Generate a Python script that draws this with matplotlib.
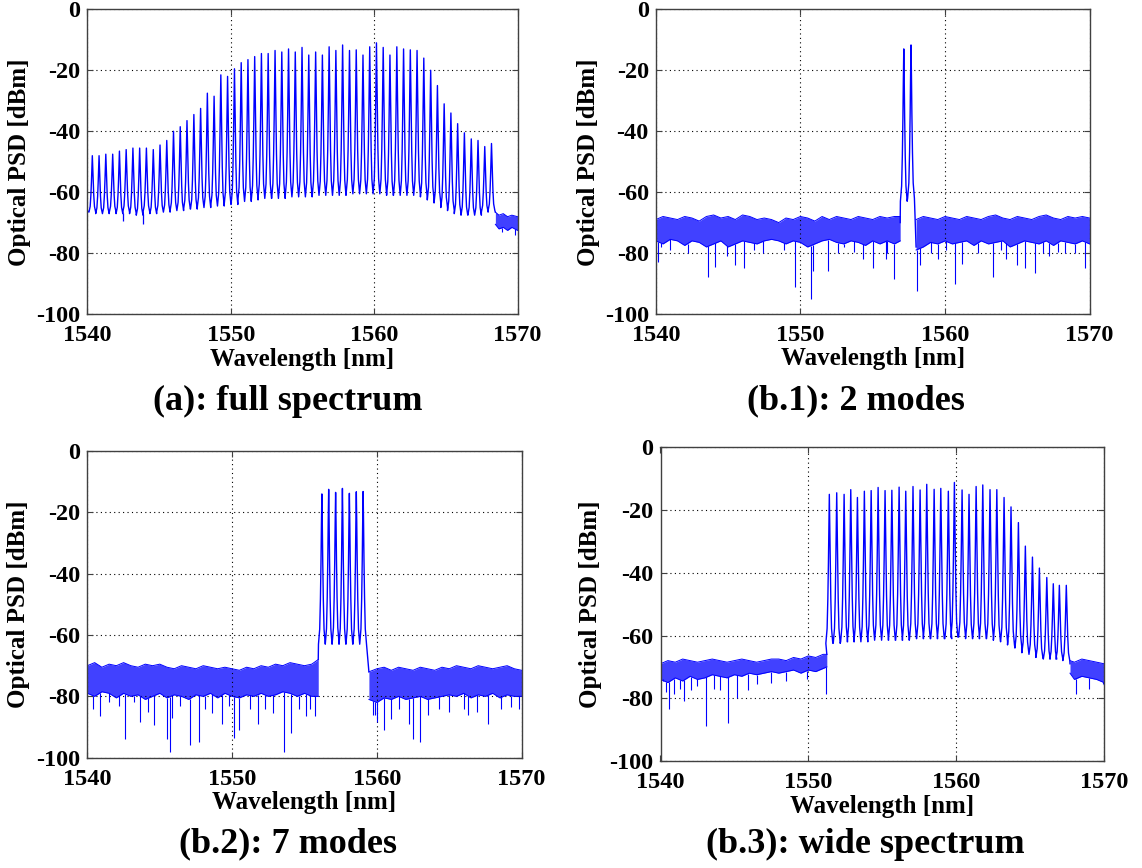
import numpy as np
import matplotlib
matplotlib.use("Agg")
import matplotlib.pyplot as plt

plt.rcParams["font.family"] = ["Liberation Serif", "DejaVu Serif"]
plt.rcParams["font.weight"] = "bold"
plt.rcParams["axes.unicode_minus"] = False

#
# (a) full spectrum: comb peaks, valley level after each peak, noise tail
#
a_peak_nm = [1540.35, 1540.82, 1541.29, 1541.77, 1542.24, 1542.71, 1543.18, 1543.65, 1544.12, 1544.60,
             1545.07, 1545.54, 1546.01, 1546.48, 1546.95, 1547.43, 1547.90, 1548.37, 1548.84, 1549.31,
             1549.78, 1550.26, 1550.73, 1551.20, 1551.67, 1552.14, 1552.61, 1553.09, 1553.56, 1554.03,
             1554.50, 1554.97, 1555.44, 1555.92, 1556.39, 1556.86, 1557.33, 1557.80, 1558.28, 1558.75,
             1559.22, 1559.69, 1560.16, 1560.63, 1561.10, 1561.58, 1562.05, 1562.52, 1562.99, 1563.46,
             1563.94, 1564.41, 1564.88, 1565.35, 1565.82, 1566.29, 1566.77, 1567.24, 1567.71, 1568.18]
a_peak_db = [-48, -48, -47.5, -47.5, -46.5, -46, -45.5, -45.5, -45.5, -46,
             -44.5, -43, -40, -38.5, -36.5, -34.5, -32.5, -27.5, -28.5, -21.5,
             -22, -19.5, -17.5, -16.5, -15.5, -14.5, -14.5, -13.5, -14, -13,
             -14, -12.5, -15, -14, -15, -12.3, -13.5, -11.7, -13.5, -13.3,
             -15, -12.3, -11, -12.5, -15, -12.3, -13, -13.3, -13.5, -16,
             -20, -25, -31, -34, -37.5, -40.5, -42.5, -43, -45, -44]
a_valley_db = [-66.5, -67, -67, -66.5, -67, -66.5, -67, -67.5, -66.5, -67,
               -66.5, -66.5, -66, -66, -65.5, -65.5, -65, -65, -64.5, -64.5,
               -64, -64, -63, -63, -62.5, -62, -62, -62, -62, -61.5,
               -61.5, -61.5, -61.5, -61, -61, -61, -61, -61, -60.5, -60.5,
               -60.5, -60.5, -60.5, -60.5, -61, -61, -61, -61, -61, -61.5,
               -62.5, -63.5, -65, -66, -67, -67.5, -67.5, -67.5, -66.5, -66]
a_notch_nm = [1542.47, 1543.88]
a_notch_db = [-69.5, -70.5]
a_floor_nm = [1568.45, 1568.7, 1569.0, 1569.3, 1569.6, 1570]
a_floor_hi = [-66.5, -67.5, -67, -68, -67.5, -68]
a_floor_lo = [-70.5, -72, -71.5, -72.5, -71.5, -72.5]
a_dip_nm = [1568.9, 1569.85]
a_dip_db = [-73, -74]

#
# (b.1) 2 modes
#
b1_peak_nm = [1557.15, 1557.65]
b1_peak_db = [-13, -11.7]
b1_valley_db = [-63, -62]
b1_comb_span = [1556.9, 1558.0]
b1_floor_nm = [1540, 1540.5, 1541, 1541.5, 1542, 1542.5, 1543, 1543.5, 1544, 1544.5, 1545, 1545.5,
               1546, 1546.5, 1547, 1547.5, 1548, 1548.5, 1549, 1549.5, 1550, 1550.5, 1551, 1551.5,
               1552, 1552.5, 1553, 1553.5, 1554, 1554.5, 1555, 1555.5, 1556, 1556.5, 1556.9,
               1558.0, 1558.5, 1559, 1559.5, 1560, 1560.5, 1561, 1561.5, 1562, 1562.5, 1563, 1563.5,
               1564, 1564.5, 1565, 1565.5, 1566, 1566.5, 1567, 1567.5, 1568, 1568.5, 1569, 1569.5, 1570]
b1_floor_hi = [-69, -68, -68.5, -69, -68, -68.5, -69.5, -68, -67.5, -68.5, -68, -69,
               -67.5, -68, -69, -68.5, -69, -70, -68.5, -69, -68, -68.5, -69.5, -68,
               -69, -68, -68.5, -69, -68, -68.5, -69, -68, -68.5, -68, -68,
               -69, -68, -68.5, -69, -68, -68.5, -69, -68, -68.5, -69, -68, -67.5,
               -68.5, -69, -68, -68.5, -69, -68, -67.5, -68.5, -69, -68, -68.5, -68, -68.5]
b1_floor_lo = [-76, -77, -75.5, -76, -77.5, -76, -76.5, -78, -77, -76, -78, -77,
               -76, -76.5, -77, -76, -75.5, -76, -77, -76, -76.5, -78, -77, -76,
               -75.5, -76.5, -77, -76, -76.5, -77.5, -76, -77, -76, -77, -76,
               -79, -78, -76.5, -77, -76, -77, -76.5, -76, -77.5, -76, -77, -76.5,
               -76, -78, -77, -76, -76.5, -77, -76, -77.5, -76, -76.5, -77, -76, -77]
b1_dip_nm = [1540.15, 1540.35, 1541.0, 1542.2, 1543.6, 1544.1, 1544.9, 1545.5, 1546.1, 1546.8,
             1547.4, 1548.9, 1549.6, 1550.7, 1550.85, 1551.9, 1552.6, 1553.0, 1553.7, 1554.3,
             1555.0, 1555.9, 1556.0, 1556.5, 1558.05, 1558.25, 1559.0, 1559.5, 1560.1, 1560.7,
             1561.2, 1562.3, 1563.3, 1563.9, 1564.2, 1565.0, 1565.5, 1566.2, 1566.8, 1567.2,
             1567.8, 1568.3, 1569.0, 1569.7]
b1_dip_db = [-83, -78, -79, -80, -88, -84.5, -81, -84, -85, -79,
             -80, -79, -91, -95, -86, -86, -80, -78, -79.5, -82,
             -85, -82, -80, -88.5, -92.5, -84, -80, -82, -79, -90,
             -83.5, -80, -88, -79, -82, -84, -85, -86.5, -80, -81,
             -79.5, -80, -80, -85]

#
# (b.2) 7 modes
#
b2_peak_nm = [1556.2, 1556.67, 1557.15, 1557.62, 1558.1, 1558.58, 1559.05]
b2_peak_db = [-14, -12.5, -13.5, -12.2, -13.8, -13.3, -13.2]
b2_valley_db = [-63, -63, -62.5, -63, -63, -63, -63]
b2_comb_span = [1555.95, 1559.45]
b2_floor_nm = [1540, 1540.5, 1541, 1541.5, 1542, 1542.5, 1543, 1543.5, 1544, 1544.5, 1545, 1545.5,
               1546, 1546.5, 1547, 1547.5, 1548, 1548.5, 1549, 1549.5, 1550, 1550.5, 1551, 1551.5,
               1552, 1552.5, 1553, 1553.5, 1554, 1554.5, 1555, 1555.5, 1555.95,
               1559.45, 1560, 1560.5, 1561, 1561.5, 1562, 1562.5, 1563, 1563.5, 1564, 1564.5,
               1565, 1565.5, 1566, 1566.5, 1567, 1567.5, 1568, 1568.5, 1569, 1569.5, 1570]
b2_floor_hi = [-70, -69, -70.5, -69.5, -70, -69, -70, -70.5, -69.5, -70, -69.5, -70.5,
               -71, -70, -70.5, -71, -70, -70.5, -71, -70.5, -71, -71.5, -70.5, -71,
               -70, -70.5, -69.5, -70, -69, -69.5, -70, -69.5, -68,
               -72, -71, -70.5, -71.5, -70.5, -71, -71.5, -70.5, -71, -71.5, -70.5,
               -71, -70, -70.5, -71, -70, -70.5, -71, -70.5, -70, -71, -71.5]
b2_floor_lo = [-79, -80, -78.5, -79, -80.5, -79, -80, -79.5, -81, -80, -79, -80.5,
               -79.5, -80, -81, -79.5, -80, -79, -80.5, -79, -80, -80.5, -79.5, -80,
               -79, -80, -79.5, -78.5, -79, -80, -79, -80, -80,
               -81, -82, -80.5, -81, -80, -81, -80.5, -80, -81, -80.5, -80,
               -79.5, -80, -79, -80.5, -79.5, -80, -79, -80.5, -79.5, -80, -80]
b2_dip_nm = [1540.4, 1540.9, 1541.5, 1542.2, 1542.6, 1543.2, 1543.6, 1544.2, 1544.6, 1545.5,
             1545.7, 1545.85, 1546.4, 1547.1, 1547.7, 1548.1, 1548.6, 1549.3, 1549.8, 1550.1,
             1550.5, 1551.2, 1551.8, 1552.3, 1552.8, 1553.6, 1554.1, 1554.6, 1555.1, 1555.4,
             1555.7, 1559.7, 1559.9, 1560.0, 1560.5, 1561.0, 1561.5, 1562.2, 1562.5, 1563.0,
             1563.5, 1564.3, 1565.0, 1566.0, 1566.3, 1566.9, 1567.7, 1568.6, 1569.3, 1569.8]
b2_dip_db = [-84, -86.5, -82, -83, -94, -82, -88.5, -85, -89.5, -94,
             -98, -87, -83, -96, -95, -84, -85.5, -89, -83, -93.5,
             -91, -84, -89, -84, -85.5, -98, -92, -84, -86.5, -84,
             -86.5, -86, -86, -88.5, -91, -87.5, -84, -89, -94, -95,
             -86, -84, -85, -84, -86, -85, -89, -84, -83.5, -84]

#
# (b.3) wide spectrum
#
b3_peak_nm = [1551.42, 1551.92, 1552.42, 1552.87, 1553.32, 1553.79, 1554.25, 1554.72, 1555.19, 1555.65,
              1556.14, 1556.59, 1557.08, 1557.56, 1558.01, 1558.51, 1558.96, 1559.47, 1559.88, 1560.40,
              1560.87, 1561.35, 1561.80, 1562.29, 1562.75, 1563.24, 1563.71, 1564.21, 1564.68, 1565.16,
              1565.63, 1566.13, 1566.57, 1566.98, 1567.45]
b3_peak_db = [-15, -14.5, -15, -13.5, -16, -14, -13.8, -12.8, -13.8, -13.7,
              -12.7, -14, -12.5, -13.6, -11.8, -13.4, -13.1, -14, -11.2, -13.6,
              -15, -12.5, -12, -13.5, -13.5, -16, -19, -24, -31.5, -35,
              -38.5, -41.5, -43.5, -44, -44]
b3_valley_db = [-62.5, -62.5, -62, -62, -62, -62, -61.5, -61.5, -61.5, -61.5,
                -61.5, -61.5, -61, -61, -61, -61, -61, -61, -60.5, -60.5,
                -61, -61, -61, -61, -61.5, -62, -63, -64, -65.5, -66,
                -67, -67.5, -67.5, -67.5, -68]
b3_comb_span = [1551.25, 1567.7]
b3_floor_nm = [1540, 1540.5, 1541, 1541.5, 1542, 1542.5, 1543, 1543.5, 1544, 1544.5, 1545, 1545.5,
               1546, 1546.5, 1547, 1547.5, 1548, 1548.5, 1549, 1549.5, 1550, 1550.5, 1551, 1551.25,
               1567.7, 1568, 1568.5, 1569, 1569.5, 1570]
b3_floor_hi = [-69, -68, -68.5, -67.5, -68, -68.5, -68, -67.5, -68, -68.5, -68, -67.5,
               -68, -68.5, -68, -67.5, -67.5, -68, -67, -67.5, -66.5, -67, -66, -66,
               -68, -68.5, -67.5, -68, -68.5, -69]
b3_floor_lo = [-74, -75, -73.5, -74.5, -73, -74, -73.5, -72.5, -73, -73.5, -72.5, -73,
               -72, -72.5, -72, -71.5, -72, -71.5, -71, -72, -71, -71.5, -70.5, -70,
               -72, -74, -73, -73.5, -74, -75]
b3_dip_nm = [1540.2, 1540.4, 1540.57, 1540.9, 1541.3, 1541.6, 1542.06, 1542.5, 1543.1, 1543.6,
             1544.05, 1544.57, 1545.2, 1545.9, 1546.5, 1547.5, 1548.5, 1549.9, 1551.2, 1568.1,
             1569.0, 1569.9]
b3_dip_db = [-74, -78, -83.5, -78.5, -77, -81, -77.5, -76, -89, -77,
             -77.5, -88, -80, -77.5, -75.5, -75, -74.5, -74, -78.5, -78.5,
             -77, -75.5]

W, H = 1142, 868
BLUE = "#0000ff"
# shape of one mode line (offset in nm from the peak, fraction of peak height above valley)
PEAK_OFF = [-0.235, -0.15, -0.1, -0.06, -0.03, 0.0, 0.03, 0.06, 0.1, 0.15, 0.235]
PEAK_FRAC = [0, 0.1, 0.3, 0.55, 0.8, 1, 0.8, 0.55, 0.3, 0.1, 0]


def box(x0, y0, x1, y1):
    return [x0 / W, 1 - y1 / H, (x1 - x0) / W, (y1 - y0) / H]


def draw_comb(ax, nm, top, valley, start, end):
    xs, ys = [start[0]], [start[1]]
    for x, h, v in zip(nm, top, valley):
        for o, f in zip(PEAK_OFF, PEAK_FRAC):
            xs.append(x + o)
            ys.append(v + (h - v) * f)
    xs.append(end[0])
    ys.append(end[1])
    ax.plot(xs, ys, color=BLUE, lw=1.0)


def draw_floor(ax, nm, hi, lo, dip_nm, dip_db, span=None):
    nm, hi, lo = np.asarray(nm), np.asarray(hi), np.asarray(lo)
    if span is None:
        parts = [np.ones(len(nm), bool)]
    else:
        parts = [nm <= span[0], nm >= span[1]]
    for m in parts:
        ax.fill_between(nm[m], lo[m], hi[m], color="#2020ff", lw=0, alpha=0.85)
        ax.plot(nm[m], hi[m], color=BLUE, lw=0.7)
        ax.plot(nm[m], lo[m], color=BLUE, lw=0.7)
    base = np.interp(dip_nm, nm, lo)
    ax.vlines(dip_nm, dip_db, base, color=BLUE, lw=0.8)


def style(ax):
    ax.set_xlim(1540, 1570)
    ax.set_ylim(-100, 0)
    ax.set_xticks([1540, 1550, 1560, 1570])
    ax.set_yticks(range(-100, 1, 20))
    ax.grid(True, color="k", lw=0.8, ls=(0, (1, 3)))
    ax.tick_params(direction="in", length=4, top=True, right=True, labelsize=17.5,
                   color="#404040")
    ax.tick_params(axis="x", pad=8)
    ax.tick_params(axis="y", pad=5)
    for s in ax.spines.values():
        s.set_color("#404040")
        s.set_linewidth(1)
    ax.set_xlabel("Wavelength [nm]", fontsize=18, fontweight="bold", labelpad=1)


fig = plt.figure(figsize=(W / 100, H / 100), dpi=100)

ax_a = fig.add_axes(box(87.3, 9.3, 517.6, 314.3))
ax_b1 = fig.add_axes(box(655.8, 9.3, 1089.6, 314))
ax_b2 = fig.add_axes(box(87.4, 451, 521.6, 757.7))
ax_b3 = fig.add_axes(box(660.5, 447.3, 1104, 761))

# (a)
draw_comb(ax_a, a_peak_nm, a_peak_db, a_valley_db, (1540, -66), (1568.45, -66.5))
ax_a.vlines(a_notch_nm, a_notch_db, np.interp(a_notch_nm, a_peak_nm, a_valley_db), color=BLUE, lw=0.9)
draw_floor(ax_a, a_floor_nm, a_floor_hi, a_floor_lo, a_dip_nm, a_dip_db)

# (b.1)
draw_floor(ax_b1, b1_floor_nm, b1_floor_hi, b1_floor_lo, b1_dip_nm, b1_dip_db, b1_comb_span)
draw_comb(ax_b1, b1_peak_nm, b1_peak_db, b1_valley_db, (b1_comb_span[0], -70), (b1_comb_span[1], -78))

# (b.2)
draw_floor(ax_b2, b2_floor_nm, b2_floor_hi, b2_floor_lo, b2_dip_nm, b2_dip_db, b2_comb_span)
draw_comb(ax_b2, b2_peak_nm, b2_peak_db, b2_valley_db, (b2_comb_span[0], -68), (b2_comb_span[1], -72))

# (b.3)
draw_floor(ax_b3, b3_floor_nm, b3_floor_hi, b3_floor_lo, b3_dip_nm, b3_dip_db, b3_comb_span)
draw_comb(ax_b3, b3_peak_nm, b3_peak_db, b3_valley_db, (b3_comb_span[0], -66), (b3_comb_span[1], -69))

for ax in (ax_a, ax_b1, ax_b2, ax_b3):
    style(ax)

# y labels and captions
for x, y in [(20, 162), (589, 162), (19, 604), (591, 604)]:
    fig.text(x / W, 1 - y / H, "Optical PSD [dBm]", rotation=90, ha="center", va="center",
             fontsize=18, fontweight="bold")

captions = ["(a): full spectrum", "(b.1): 2 modes", "(b.2): 7 modes", "(b.3): wide spectrum"]
for (x, y), txt in zip([(288, 401), (856, 401), (288, 844), (865, 844)], captions):
    fig.text(x / W, 1 - y / H, txt, ha="center", va="center", fontsize=26, fontweight="bold")

fig.savefig("out.png", dpi=100)
